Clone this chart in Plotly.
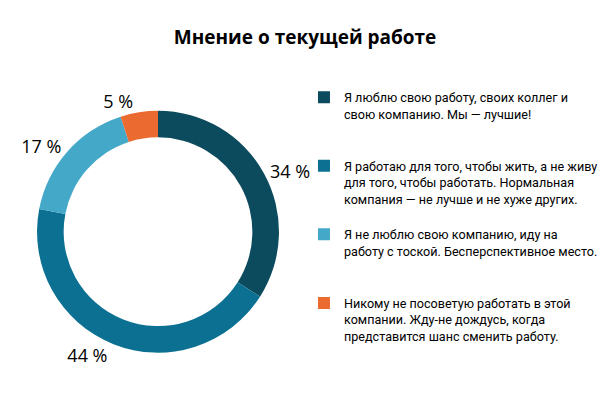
import plotly.graph_objects as go

title = "Мнение о текущей работе"
categories = [
    "Я люблю свою работу, своих коллег и<br>свою компанию. Мы — лучшие!",
    "Я работаю для того, чтобы жить, а не живу<br>для того, чтобы работать. Нормальная<br>компания — не лучше и не хуже других.",
    "Я не люблю свою компанию, иду на<br>работу с тоской. Бесперспективное место.",
    "Никому не посоветую работать в этой<br>компании. Жду-не дождусь, когда<br>представится шанс сменить работу.",
]
values = [34, 44, 17, 5]
colors = ["#0c4a5d", "#0b7091", "#44a8c8", "#ea6a30"]

# pad legend entries to equal height
max_lines = 4
padded = []
for c in categories:
    n = c.count("<br>") + 1
    padded.append(c + "<br>&nbsp;" * (max_lines - n))

fig = go.Figure(
    go.Pie(
        labels=padded,
        values=values,
        hole=0.78,
        sort=False,
        direction="clockwise",
        rotation=0,
        marker=dict(colors=colors, line=dict(width=0)),
        textposition="outside",
        texttemplate="%{value} %",
        textfont=dict(size=18, color="#000000", family="Open Sans"),
        domain=dict(x=[0.0476, 0.4442], y=[0.1318, 0.7412]),
        showlegend=True,
    )
)

fig.update_layout(
    width=610,
    height=397,
    margin=dict(l=0, r=0, t=0, b=0),
    paper_bgcolor="white",
    plot_bgcolor="white",
    title=dict(
        text="<b>" + title + "</b>",
        x=0.487,
        xanchor="center",
        y=0.925,
        yanchor="middle",
        font=dict(size=19, color="#000000", family="Open Sans"),
    ),
    legend=dict(
        x=0.4852,
        xanchor="left",
        y=0.812,
        yanchor="top",
        valign="top",
        bgcolor="rgba(0,0,0,0)",
        font=dict(size=12.6, color="#000000", family="Roboto"),
        itemwidth=30,
        tracegroupgap=0,
    ),
)

fig.write_html("out.html")
